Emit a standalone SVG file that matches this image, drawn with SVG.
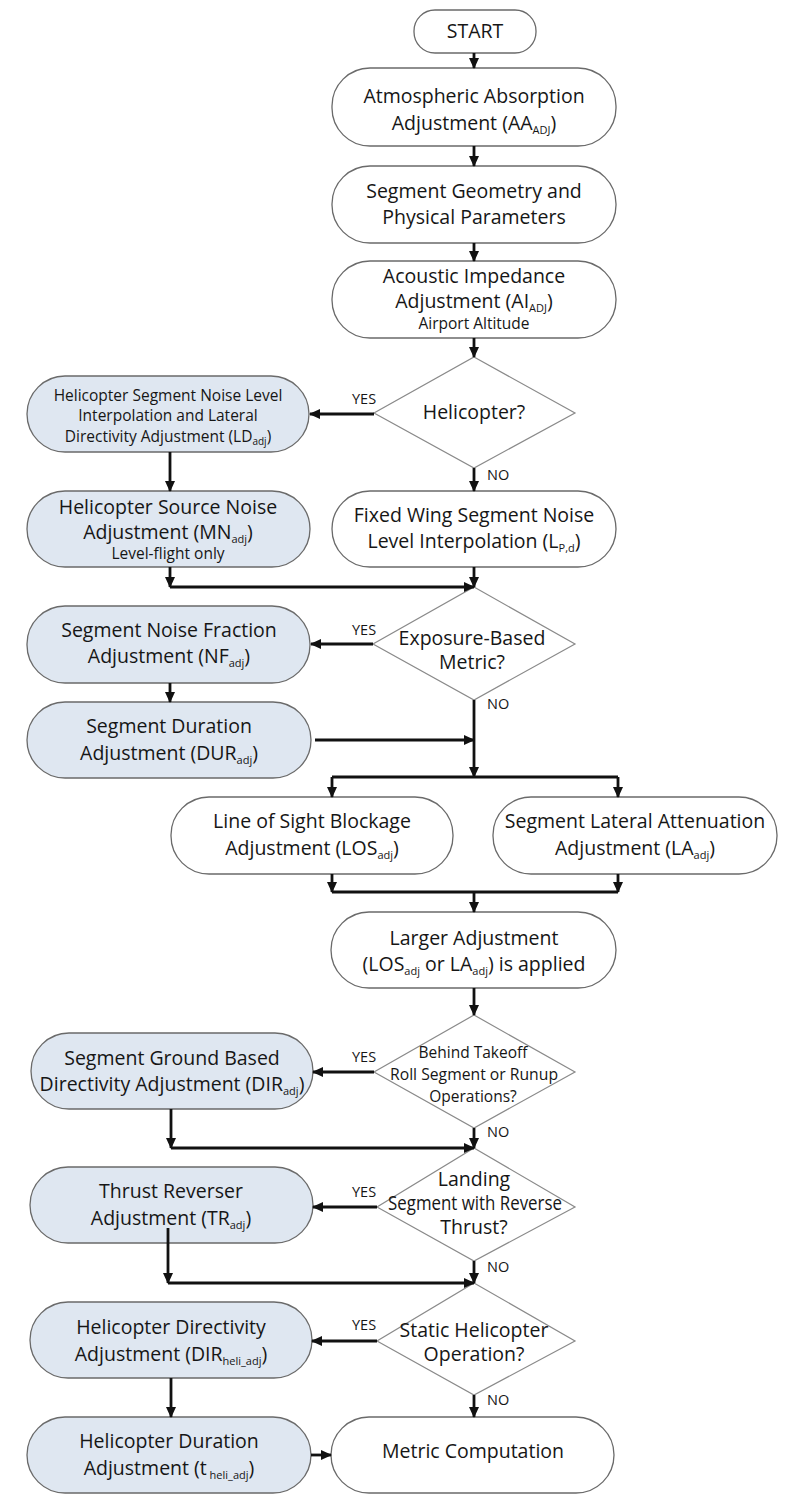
<svg xmlns="http://www.w3.org/2000/svg" width="799" height="1500" viewBox="0 0 799 1500">
<defs>
<marker id="ah" markerUnits="userSpaceOnUse" markerWidth="11" markerHeight="10" refX="10" refY="5" orient="auto">
<path d="M0,0 L11,5 L0,10 z" fill="#111"/>
</marker>
<style>
.b{fill:#fff;stroke:#6a6a6a;stroke-width:1.3}
.h{fill:#dfe7f1;stroke:#6a6a6a;stroke-width:1.3}
.d{fill:#fff;stroke:#8a8a8a;stroke-width:1.2}
text{font-family:"Open Sans","Liberation Sans",sans-serif;fill:#161616;text-anchor:middle;font-size:19.5px}
.s{font-size:15.5px}
.xs{font-size:15.5px}
.lb{font-size:14.5px;text-anchor:start}
.c{fill:none;stroke:#111;stroke-width:2.8}
.a{marker-end:url(#ah)}
</style>
</defs>
<rect width="799" height="1500" fill="#fff"/>
<g id="start"><rect class="b" x="414" y="10" width="122" height="43" rx="21"/><text x="475" y="38">START</text></g>
<g id="atmos"><rect class="b" x="332" y="68" width="284" height="78" rx="38"/><text x="474" y="103">Atmospheric Absorption</text><text x="474" y="130">Adjustment (AA<tspan font-size="11" dy="4">ADJ</tspan><tspan dy="-4">)</tspan></text></g>
<g id="geom"><rect class="b" x="332" y="166" width="284" height="77" rx="38"/><text x="474" y="198">Segment Geometry and</text><text x="474" y="224">Physical Parameters</text></g>
<g id="acoustic"><rect class="b" x="332" y="261" width="284" height="77" rx="38"/><text x="474" y="283">Acoustic Impedance</text><text x="474" y="308">Adjustment (AI<tspan font-size="11" dy="4">ADJ</tspan><tspan dy="-4">)</tspan></text><text class="xs" x="474" y="329">Airport Altitude</text></g>
<g id="q-heli"><polygon class="d" points="474,357 575,413 474,468 374,413"/><text x="474" y="419">Helicopter?</text></g>
<g id="heli-seg"><rect class="h" x="27" y="376" width="282" height="76" rx="38"/><text class="s" x="168" y="401">Helicopter Segment Noise Level</text><text class="s" x="168" y="421">Interpolation and Lateral</text><text class="s" x="168" y="442">Directivity Adjustment (LD<tspan font-size="10" dy="3">adj</tspan><tspan dy="-3">)</tspan></text></g>
<g id="heli-src"><rect class="h" x="27" y="491" width="283" height="76" rx="38"/><text x="168" y="514" font-size="17.5">Helicopter Source Noise</text><text x="168" y="539" font-size="17.5">Adjustment (MN<tspan font-size="11" dy="4">adj</tspan><tspan dy="-4">)</tspan></text><text class="xs" x="168" y="559">Level-flight only</text></g>
<g id="fixed"><rect class="b" x="332" y="491" width="284" height="76" rx="38"/><text x="474" y="522">Fixed Wing Segment Noise</text><text x="474" y="548">Level Interpolation (L<tspan font-size="11" dy="4">P,d</tspan><tspan dy="-4">)</tspan></text></g>
<g id="q-exp"><polygon class="d" points="474,587 575,644 474,700 373,644"/><text x="472" y="645" font-size="19">Exposure-Based</text><text x="472" y="669" font-size="19">Metric?</text></g>
<g id="nf"><rect class="h" x="27" y="606" width="283" height="77" rx="38"/><text x="169" y="637">Segment Noise Fraction</text><text x="169" y="663">Adjustment (NF<tspan font-size="11" dy="4">adj</tspan><tspan dy="-4">)</tspan></text></g>
<g id="dur"><rect class="h" x="27" y="702" width="284" height="76" rx="38"/><text x="169" y="733">Segment Duration</text><text x="169" y="760">Adjustment (DUR<tspan font-size="11" dy="4">adj</tspan><tspan dy="-4">)</tspan></text></g>
<g id="los"><rect class="b" x="171" y="797" width="282" height="77" rx="38"/><text x="312" y="828">Line of Sight Blockage</text><text x="312" y="855">Adjustment (LOS<tspan font-size="11" dy="4">adj</tspan><tspan dy="-4">)</tspan></text></g>
<g id="la"><rect class="b" x="493" y="797" width="284" height="77" rx="38"/><text x="635" y="828">Segment Lateral Attenuation</text><text x="635" y="855">Adjustment (LA<tspan font-size="11" dy="4">adj</tspan><tspan dy="-4">)</tspan></text></g>
<g id="larger"><rect class="b" x="331" y="912" width="285" height="76" rx="38"/><text x="474" y="945">Larger Adjustment</text><text x="474" y="971">(LOS<tspan font-size="11" dy="4">adj</tspan><tspan dy="-4"> or LA</tspan><tspan font-size="11" dy="4">adj</tspan><tspan dy="-4">) is applied</tspan></text></g>
<g id="q-behind"><polygon class="d" points="474,1015 575,1072 474,1128 374,1072"/><text class="s" x="473" y="1058">Behind Takeoff</text><text class="s" x="474" y="1080" textLength="168" lengthAdjust="spacingAndGlyphs">Roll Segment or Runup</text><text class="s" x="473" y="1102">Operations?</text></g>
<g id="dir"><rect class="h" x="31" y="1033" width="282" height="76" rx="38"/><text x="172" y="1065" font-size="19">Segment Ground Based</text><text x="172" y="1091" font-size="19">Directivity Adjustment (DIR<tspan font-size="11" dy="4">adj</tspan><tspan dy="-4">)</tspan></text></g>
<g id="q-landing"><polygon class="d" points="474,1148 575,1207 474,1261 377,1207"/><text x="474" y="1186" font-size="16">Landing</text><text x="475" y="1210" font-size="15.5" textLength="174" lengthAdjust="spacingAndGlyphs">Segment with Reverse</text><text x="474" y="1234" font-size="16">Thrust?</text></g>
<g id="tr"><rect class="h" x="30" y="1167" width="283" height="76" rx="38"/><text x="171" y="1198">Thrust Reverser</text><text x="171" y="1225">Adjustment (TR<tspan font-size="11" dy="4">adj</tspan><tspan dy="-4">)</tspan></text></g>
<g id="q-static"><polygon class="d" points="474,1283 575,1341 474,1395 377,1341"/><text x="474" y="1337" font-size="19">Static Helicopter</text><text x="474" y="1361" font-size="19">Operation?</text></g>
<g id="dirheli"><rect class="h" x="30" y="1302" width="282" height="76" rx="38"/><text x="171" y="1334">Helicopter Directivity</text><text x="171" y="1361">Adjustment (DIR<tspan font-size="11" dy="4">heli_adj</tspan><tspan dy="-4">)</tspan></text></g>
<g id="durheli"><rect class="h" x="27" y="1417" width="284" height="76" rx="38"/><text x="169" y="1448">Helicopter Duration</text><text x="169" y="1475">Adjustment (t<tspan font-size="11" dy="4"> heli_adj</tspan><tspan dy="-4">)</tspan></text></g>
<g id="metric"><rect class="b" x="331" y="1417" width="283" height="76" rx="38"/><text x="473" y="1458">Metric Computation</text></g>
<g id="connectors">
<path class="c a" d="M474,53 V68"/>
<path class="c a" d="M474,146 V166"/>
<path class="c a" d="M474,243 V261"/>
<path class="c a" d="M474,338 V357"/>
<path class="c a" d="M374,414 H310"/>
<path class="c a" d="M170,452 V491"/>
<path class="c a" d="M474,468 V491"/>
<path class="c a" d="M170,567 V587"/>
<path class="c a" d="M170,587 H474"/>
<path class="c a" d="M474,567 V587"/>
<path class="c a" d="M373,644 H311"/>
<path class="c a" d="M170,683 V702"/>
<path class="c a" d="M474,700 V777"/>
<path class="c a" d="M315,740 H474"/>
<path class="c" d="M332,777 H618"/>
<path class="c a" d="M332,777 V797"/>
<path class="c a" d="M618,777 V797"/>
<path class="c a" d="M332,874 V892"/>
<path class="c a" d="M618,874 V892"/>
<path class="c" d="M332,892 H618"/>
<path class="c a" d="M474,892 V912"/>
<path class="c a" d="M474,988 V1015"/>
<path class="c a" d="M374,1072 H313"/>
<path class="c a" d="M171,1109 V1148"/>
<path class="c a" d="M171,1148 H474"/>
<path class="c a" d="M474,1128 V1148"/>
<path class="c a" d="M377,1207 H313"/>
<path class="c a" d="M168,1228 V1283"/>
<path class="c a" d="M168,1283 H474"/>
<path class="c a" d="M474,1261 V1283"/>
<path class="c a" d="M377,1341 H312"/>
<path class="c a" d="M171,1378 V1417"/>
<path class="c a" d="M474,1395 V1417"/>
<path class="c a" d="M311,1455 H331"/>
</g>
<g id="labels">
<text class="lb" x="352" y="404">YES</text>
<text class="lb" x="487" y="480">NO</text>
<text class="lb" x="352" y="635">YES</text>
<text class="lb" x="487" y="709">NO</text>
<text class="lb" x="352" y="1062">YES</text>
<text class="lb" x="487" y="1137">NO</text>
<text class="lb" x="352" y="1197">YES</text>
<text class="lb" x="487" y="1272">NO</text>
<text class="lb" x="352" y="1330">YES</text>
<text class="lb" x="487" y="1405">NO</text>
</g>
</svg>
